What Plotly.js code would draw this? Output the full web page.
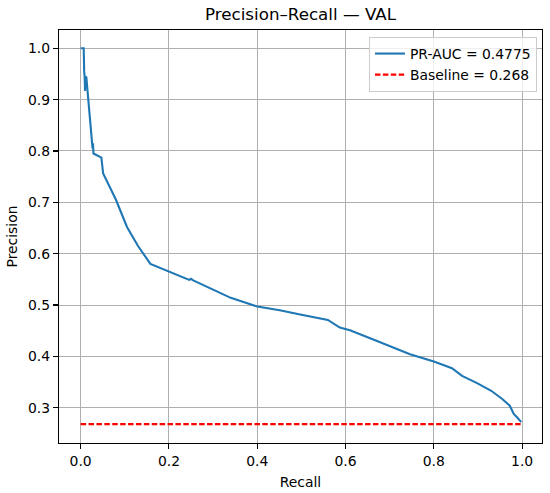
<!DOCTYPE html>
<html>
<head>
<meta charset="utf-8">
<script src="https://cdn.plot.ly/plotly-3.0.1.min.js"></script>
<style>html,body{margin:0;padding:0;background:#fff;}#chart{width:550px;height:493px;}</style>
</head>
<body>
<div id="chart"></div>
<script>
const recall = [0.000, 0.007, 0.008, 0.009, 0.010, 0.011, 0.013, 0.020, 0.026, 0.027, 0.028, 0.029, 0.045, 0.047, 0.051, 0.080, 0.105, 0.130, 0.158, 0.200, 0.246, 0.250, 0.255, 0.300, 0.340, 0.400, 0.451, 0.500, 0.560, 0.587, 0.610, 0.660, 0.720, 0.746, 0.800, 0.841, 0.864, 0.898, 0.930, 0.955, 0.972, 0.981, 0.990, 0.998];
const precision = [1.000, 1.000, 0.955, 0.945, 0.917, 0.945, 0.943, 0.880, 0.817, 0.805, 0.815, 0.795, 0.788, 0.787, 0.756, 0.705, 0.652, 0.615, 0.580, 0.565, 0.549, 0.551, 0.548, 0.530, 0.514, 0.497, 0.490, 0.481, 0.471, 0.456, 0.451, 0.434, 0.414, 0.404, 0.390, 0.377, 0.362, 0.348, 0.333, 0.317, 0.304, 0.288, 0.280, 0.272];
const baseline = 0.268;
const aucLabel = "PR-AUC = 0.4775";
const baseLabel = "Baseline = 0.268";
const baseX = [0, 1];
const baseY = [baseline, baseline];

const traces = [
  {x: recall, y: precision, type: 'scatter', mode: 'lines', name: aucLabel,
   line: {color: '#1f77b4', width: 2.1}},
  {x: baseX, y: baseY, type: 'scatter', mode: 'lines', name: baseLabel,
   line: {color: '#ff0000', width: 2.1, dash: '5.5px,2.4px'}}
];

const font = {family: 'DejaVu Sans, sans-serif', size: 13.9, color: '#000'};
const axisCommon = {
  showline: true, mirror: true, linecolor: '#000', linewidth: 1.1,
  showgrid: true, gridcolor: '#b0b0b0', gridwidth: 1,
  ticks: 'outside', ticklen: 5, tickwidth: 1.1, tickcolor: '#000',
  zeroline: false, tickfont: font
};

const layout = {
  width: 550, height: 493,
  margin: {l: 59, r: 8, t: 30, b: 50},
  paper_bgcolor: '#fff', plot_bgcolor: '#fff',
  font: font,
  title: {text: 'Precision–Recall — VAL', font: {family: 'DejaVu Sans, sans-serif', size: 16.7, color: '#000'},
          x: 0.5, xref: 'paper', xanchor: 'center', y: 0.9716, yref: 'container', yanchor: 'middle'},
  xaxis: Object.assign({}, axisCommon, {
    range: [-0.049, 1.045], tickvals: [0, 0.2, 0.4, 0.6, 0.8, 1.0], ticktext: ['0.0','0.2','0.4','0.6','0.8','1.0'],
    title: {text: 'Recall', font: font, standoff: 9}
  }),
  yaxis: Object.assign({}, axisCommon, {
    range: [0.2313, 1.0356], tickvals: [0.3,0.4,0.5,0.6,0.7,0.8,0.9,1.0], ticktext: ['0.3','0.4','0.5','0.6','0.7','0.8','0.9','1.0'],
    title: {text: 'Precision', font: font, standoff: 7}
  }),
  showlegend: true,
  legend: {x: 0.9896, y: 0.983, xanchor: 'right', yanchor: 'top',
           bgcolor: 'rgba(255,255,255,0.8)', bordercolor: '#cccccc', borderwidth: 1,
           font: font, tracegroupgap: 2}
};

Plotly.newPlot('chart', traces, layout, {displayModeBar: false, staticPlot: true});
</script>
</body>
</html>
